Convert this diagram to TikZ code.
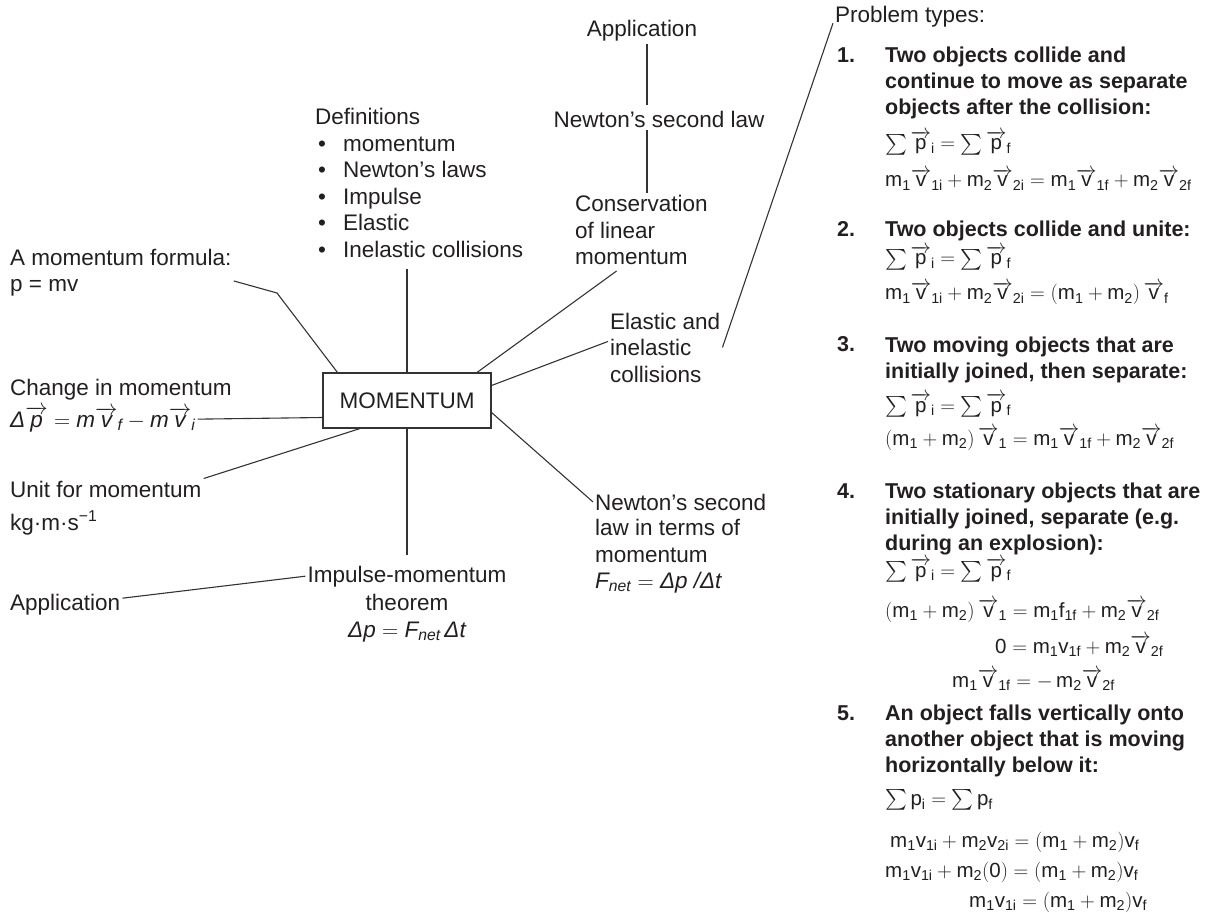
\RequirePackage{fix-cm}
\documentclass[tikz,border=0pt]{standalone}
\usepackage{fontspec}
\setmainfont{Liberation Sans}
\usepackage{amsmath}
\usetikzlibrary{positioning, calc}

\definecolor{ink}{HTML}{231F20}
\definecolor{wire}{HTML}{333333}

\newcommand{\lblfont}{\fontsize{22.5}{26.5}\selectfont}
\newcommand{\probfont}{\fontsize{21.5}{26}\selectfont}
\newcommand{\eqnfont}{\fontsize{20.5}{24}\selectfont}
% upright / italic letters with text subscripts, with and without arrows
\newcommand{\ts}[2]{\text{#1}_{\text{#2}}}
\newcommand{\avs}[2]{\overrightarrow{\text{#1}}_{\text{#2}}}
\newcommand{\its}[2]{\text{\itshape #1}_{\text{\itshape #2}}}
\newcommand{\iavs}[2]{\overrightarrow{\text{\itshape #1}}_{\text{\itshape #2}}}
\newcommand{\bul}{\hspace*{3pt}\makebox[25pt][l]{\textbullet}}

\begin{document}
\begin{tikzpicture}[
    x=1pt, y=-1pt,
    lbl/.style={inner sep=2pt, align=left, anchor=base west,
                font=\lblfont, text=ink},
    mid/.style={lbl, anchor=base, align=center},
    prob/.style={inner sep=2pt, align=left, anchor=base west,
                 font=\probfont\bfseries, text=ink},
    eqn/.style={inner sep=2pt, anchor=base west, font=\eqnfont, text=ink},
    hub/.style={draw=wire, line width=1.1pt, minimum width=168pt,
                minimum height=55pt, font=\lblfont, text=ink},
    link/.style={draw=wire, line width=1.1pt}
]
  \useasboundingbox (0,0) rectangle (1210,917);

  \node[hub] (mom) at (407,400.5) {MOMENTUM};

  % left branches (multi-line nodes sit on their last baseline)
  \node[lbl] (form) at (8,292) {A momentum formula:\\p = mv};
  \node[lbl] (chg) at (8,395) {Change in momentum};
  \node[lbl] (chgf) at (8,427) {$\text{\itshape Δ}\overrightarrow{\text{\itshape p}} = \text{\itshape m}\iavs{v}{f} - \text{\itshape m}\iavs{v}{i}$};
  \node[lbl] (unit) at (8,497) {Unit for momentum};
  \node[lbl] (unitv) at (8,530) {kg·m·s\textsuperscript{−1}};
  \node[lbl] (appl) at (8,610) {Application};

  % lower branches
  \node[mid] (imp1) at (407,582) {Impulse-momentum};
  \node[mid] (imp2) at (407,610) {theorem};
  \node[mid] (imp3) at (407,637) {$\text{\itshape Δp} = \its{F}{net}\,\text{\itshape Δt}$};
  \node[lbl] (nsl) at (593,510) {Newton’s second};
  \node[lbl] (nsl2) at (593,562) {law in terms of\\momentum};
  \node[lbl] (nslf) at (593,588) {$\its{F}{net} = \text{\itshape Δp /Δt}$};

  % upper branches
  \node[lbl] (defs) at (313,257.5) {Definitions\\\bul momentum\\\bul Newton’s laws\\\bul Impulse\\\bul Elastic\\\bul Inelastic collisions};
  \node[mid] (apptop) at (642,37) {Application};
  \node[mid] (nsltop) at (659,128) {Newton’s second law};
  \node[lbl] (cons) at (573,265) {Conservation\\of linear\\momentum};
  \node[lbl] (el) at (608,382) {Elastic and\\inelastic\\collisions};

  % problem types
  \node[lbl] (ptyp) at (833,23) {Problem types:};

  \node[prob] (n1) at (835,63) {1.};
  \node[prob] (p1) at (883,115) {Two objects collide and\\continue to move as separate\\objects after the collision:};
  \node[eqn] (p1a) at (883,150) {$\textstyle\sum\avs{p}{i} = \sum\avs{p}{f}$};
  \node[eqn] (p1b) at (883,187) {$\ts{m}{1}\avs{v}{1i} + \ts{m}{2}\avs{v}{2i} = \ts{m}{1}\avs{v}{1f} + \ts{m}{2}\avs{v}{2f}$};

  \node[prob] (n2) at (835,237) {2.};
  \node[prob] (p2) at (883,237) {Two objects collide and unite:};
  \node[eqn] (p2a) at (883,265) {$\textstyle\sum\avs{p}{i} = \sum\avs{p}{f}$};
  \node[eqn] (p2b) at (883,300) {$\ts{m}{1}\avs{v}{1i} + \ts{m}{2}\avs{v}{2i} = (\ts{m}{1} + \ts{m}{2})\,\avs{v}{f}$};

  \node[prob] (n3) at (835,352) {3.};
  \node[prob] (p3) at (883,378) {Two moving objects that are\\initially joined, then separate:};
  \node[eqn] (p3a) at (883,412) {$\textstyle\sum\avs{p}{i} = \sum\avs{p}{f}$};
  \node[eqn] (p3b) at (883,445) {$(\ts{m}{1} + \ts{m}{2})\,\avs{v}{1} = \ts{m}{1}\avs{v}{1f} + \ts{m}{2}\avs{v}{2f}$};

  \node[prob] (n4) at (835,498) {4.};
  \node[prob] (p4) at (883,550) {Two stationary objects that are\\initially joined, separate (e.g.\\during an explosion):};
  \node[eqn] (p4a) at (883,577) {$\textstyle\sum\avs{p}{i} = \sum\avs{p}{f}$};
  \node[eqn] (p4b) at (883,617) {$(\ts{m}{1} + \ts{m}{2})\,\avs{v}{1} = \ts{m}{1}\ts{f}{1f} + \ts{m}{2}\avs{v}{2f}$};
  \node[eqn] (p4c) at (993,653) {$\text{0} = \ts{m}{1}\ts{v}{1f} + \ts{m}{2}\avs{v}{2f}$};
  \node[eqn] (p4d) at (950,687) {$\ts{m}{1}\avs{v}{1f} = -\,\ts{m}{2}\avs{v}{2f}$};

  \node[prob] (n5) at (835,720) {5.};
  \node[prob] (p5) at (883,772) {An object falls vertically onto\\another object that is moving\\horizontally below it:};
  \node[eqn] (p5a) at (883,805) {$\textstyle\sum\ts{p}{i} = \sum\ts{p}{f}$};
  \node[eqn] (p5b) at (888,847) {$\ts{m}{1}\ts{v}{1i} + \ts{m}{2}\ts{v}{2i} = (\ts{m}{1} + \ts{m}{2})\ts{v}{f}$};
  \node[eqn] (p5c) at (883,877) {$\ts{m}{1}\ts{v}{1i} + \ts{m}{2}(\text{0}) = (\ts{m}{1} + \ts{m}{2})\ts{v}{f}$};
  \node[eqn] (p5d) at (967,907) {$\ts{m}{1}\ts{v}{1i} = (\ts{m}{1} + \ts{m}{2})\ts{v}{f}$};

  % connectors
  \coordinate (fbend) at (277,293);
  \draw[link] (mom.north) -- ([yshift=-9pt]mom.north |- defs.south);
  \draw[link] ([xshift=15pt]mom.north west) -- (fbend) -- ([yshift=-8pt]form.east);
  \draw[link] ([yshift=-17pt]mom.west) -- (chgf.east);
  \draw[link] ([xshift=-47pt]mom.south) -- (unit.north east);
  \draw[link, shorten >=8pt] (mom.south) -- (imp1.north);
  \draw[link] ([yshift=6pt]appl.east) -- (imp1.west);
  \draw[link] ([yshift=-12pt]mom.east) -- (nsl.west);
  \draw[link, shorten >=6pt] ([xshift=70pt]mom.north) -- ([xshift=-20pt]cons.south);
  \draw[link] ([yshift=15pt]mom.east) -- ([yshift=6pt]el.west);
  \draw[link] (el.east) -- ([yshift=-6pt]ptyp.west);
  \draw[link] ([xshift=5pt]apptop.south) -- ([xshift=5pt,yshift=4pt]apptop.south |- nsltop.north);
  \draw[link] ([xshift=-12pt]nsltop.south) -- ([xshift=-12pt]nsltop.south |- cons.north);
\end{tikzpicture}
\end{document}
